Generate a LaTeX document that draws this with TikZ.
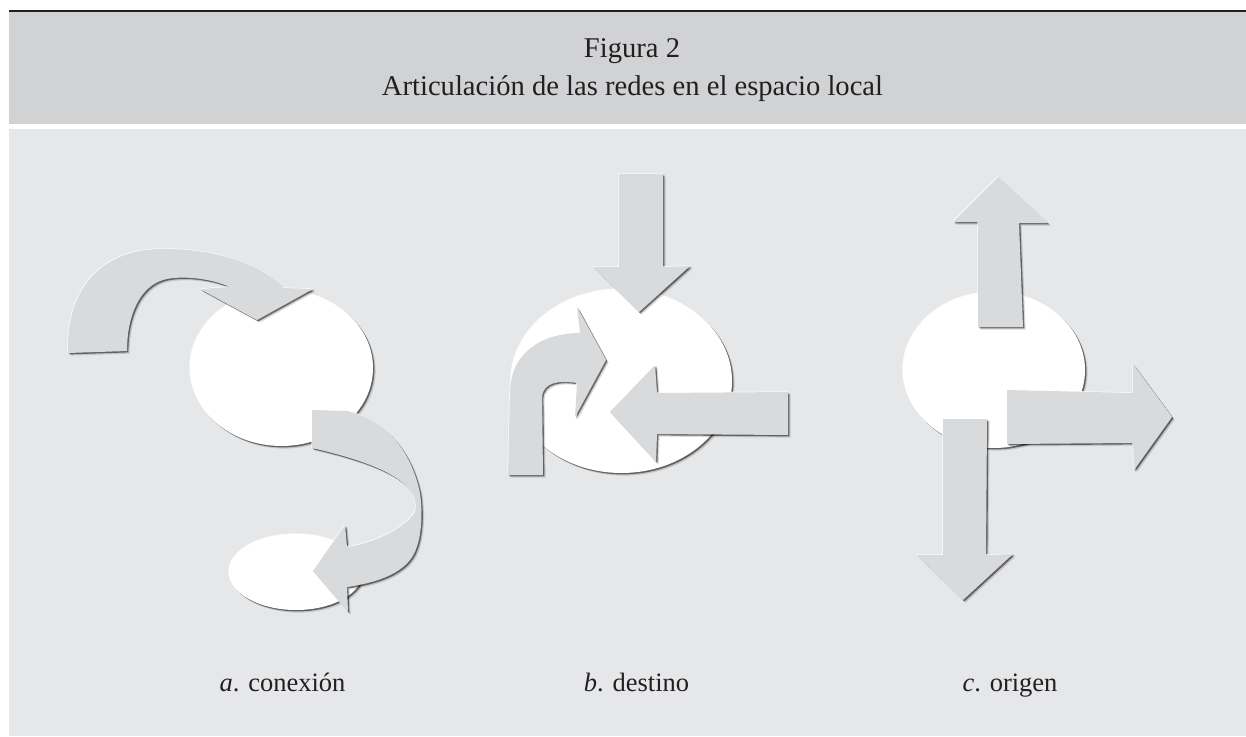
\documentclass[tikz,border=0pt]{standalone}
\usepackage{fontspec}
\setmainfont{Liberation Serif}
\usetikzlibrary{shadows}
\definecolor{hdr}{HTML}{D1D2D4}
\definecolor{pnl}{HTML}{E6E7E9}
\definecolor{arr}{HTML}{D9DADC}
\definecolor{ink}{HTML}{231F20}
\tikzset{
  emb/.style={
    general shadow={fill=black,fill opacity=0.15,shadow xshift=2.6pt,shadow yshift=-2.6pt},
    general shadow={fill=black,fill opacity=0.5,shadow xshift=1.4pt,shadow yshift=-1.4pt},
    general shadow={fill=white,fill opacity=0.8,shadow xshift=-0.7pt,shadow yshift=0.7pt}},
  arrowshape/.style={emb, fill=arr},
  disc/.style={emb, fill=white},
  ttl/.style={font=\fontsize{28.6}{34}\selectfont, text=ink, anchor=base, inner sep=0pt},
  lbl/.style={font=\fontsize{26.5}{32}\selectfont, text=ink, anchor=base, inner sep=0pt},
}
\begin{document}
\begin{tikzpicture}[x=1pt,y=-1pt]
\useasboundingbox (0,0) rectangle (1246,736);
\fill[white] (0,0) rectangle (1246,736);
% frame
\fill[ink] (9,9.7) rectangle (1246,12.4);
\fill[hdr] (9,12.4) rectangle (1246,124);
\fill[pnl] (9,129) rectangle (1246,736);
% title
\node[ttl] (t1) at (632,57) {Figura 2};
\node[ttl] (t2) at (632.5,95) {Articulación de las redes en el espacio local};

% ---------- panel a ----------
\fill[disc] (281.5,368) ellipse [x radius=91.5, y radius=78];
\fill[disc] (296,572) ellipse [x radius=67, y radius=38];
\fill[arrowshape] (68,353) .. controls (66,290) and (100,250) .. (160,249)
   .. controls (210,248) and (260,262) .. (283,288)
   -- (313,289) -- (257,320) -- (200,289) -- (230,287)
   .. controls (210,278) and (180,275) .. (163,280)
   .. controls (140,287) and (127,315) .. (127,351) -- cycle;
\fill[arrowshape] (312,410) -- (347,411)
   .. controls (380,418) and (410,445) .. (420,493)
   .. controls (423,515) and (422,545) .. (410,560)
   .. controls (398,575) and (375,583) .. (347,587)
   -- (348,612) -- (313,571) -- (345,525) -- (347,547)
   .. controls (375,543) and (405,528) .. (415,512)
   .. controls (420,490) and (400,468) .. (312,448) -- cycle;

% ---------- panel b ----------
\fill[disc] (621.5,381) ellipse [x radius=110.5, y radius=92];
\fill[arrowshape] (619,174) -- (663,174) -- (663,267) -- (690,266) -- (639,312)
   -- (593,267) -- (619,267) -- cycle;
\fill[arrowshape] (788,392) -- (788,435) -- (657,434) -- (656,462) -- (610,412)
   -- (655,365) -- (657,393) -- cycle;
\fill[arrowshape] (508,475) -- (510,390) .. controls (512,350) and (545,333) .. (580,333)
   -- (577,307) -- (606,360) -- (575,417) -- (577,383)
   .. controls (560,380) and (543,382) .. (542,397) -- (543,475) -- cycle;

% ---------- panel c ----------
\fill[disc] (994,370) ellipse [x radius=91, y radius=78];
\fill[arrowshape] (978,327) -- (978,222) -- (953,222) -- (998,177) -- (1048,223)
   -- (1019,223) -- (1023,327) -- cycle;
\fill[arrowshape] (1007,390) -- (1133,393) -- (1133,364) -- (1172,417) -- (1134,470)
   -- (1133,443) -- (1007,444) -- cycle;
\fill[arrowshape] (943,419) -- (987,419) -- (986,555) -- (1013,554) -- (963,600)
   -- (917,555) -- (943,555) -- cycle;

% labels
\node[lbl] (la) at (282.5,691) {\textit{a}. conexión};
\node[lbl] (lb) at (636.5,691) {\textit{b}. destino};
\node[lbl] (lc) at (1010,691) {\textit{c}. origen};
\end{tikzpicture}
\end{document}
